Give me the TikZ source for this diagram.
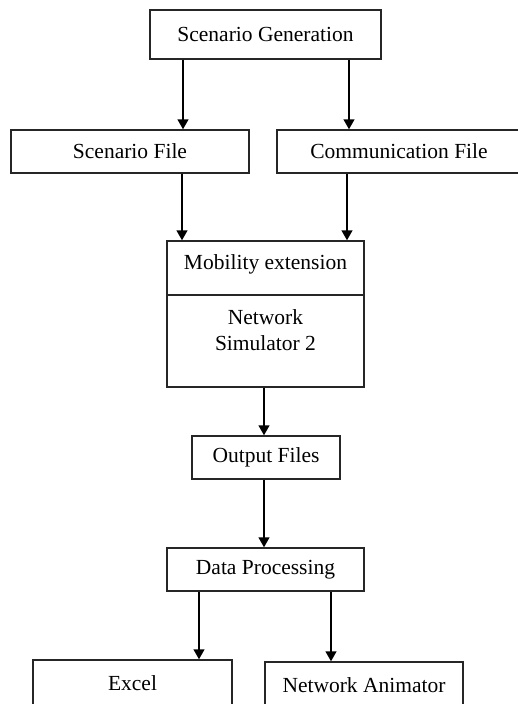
\documentclass[tikz,border=0pt]{standalone}
\usepackage{fontspec}
\setmainfont{Liberation Serif}
\usetikzlibrary{arrows.meta}
\begin{document}
\begin{tikzpicture}[x=1pt,y=-1pt,
  txt/.style={font=\fontsize{21.5}{26}\selectfont},
  box/.style={draw=black!85, line width=1.2pt, inner sep=0pt, txt, align=center},
  arr/.style={line width=2.4pt, -{Triangle[width=10.5pt,length=10pt]}}]
\useasboundingbox (0,0) rectangle (518,704);
\fill[white] (0,0) rectangle (518,704);
\node[box, minimum width=231pt, minimum height=49pt] (sg) at (265.5,34.5) {Scenario Generation};
\node[box, minimum width=238pt, minimum height=43pt] (sf) at (130,151.5) {Scenario File};
\node[box, minimum width=244pt, minimum height=43pt] (cf) at (399,151.5) {Communication File};
\node[box, minimum width=197pt, minimum height=146pt] (ns) at (265.5,314) {};
\node[txt, anchor=base] (me) at (265.5,269) {Mobility extension};
\node[txt, anchor=base] (nw) at (265.5,324) {Network};
\node[txt, anchor=base] (s2) at (265.5,350) {Simulator 2};
\draw[line width=1.2pt, black!85] (ns.west |- 0,295) -- (ns.east |- 0,295);
\node[box, minimum width=148pt, minimum height=43pt] (of) at (266,457.5) {Output Files};
\node[box, minimum width=197pt, minimum height=43pt] (dp) at (265.5,569.5) {Data Processing};
\node[box, minimum width=199pt, minimum height=46pt] (ex) at (132.5,683) {Excel};
\node[box, minimum width=198pt, minimum height=46pt] (na) at (364,685) {Network Animator};
\draw[arr] (sg.south -| 183,0) -- (sf.north -| 183,0);
\draw[arr] (sg.south -| 349,0) -- (cf.north -| 349,0);
\draw[arr] (sf.south -| 182,0) -- (ns.north -| 182,0);
\draw[arr] (cf.south -| 347,0) -- (ns.north -| 347,0);
\draw[arr] (ns.south -| 264,0) -- (of.north -| 264,0);
\draw[arr] (of.south -| 264,0) -- (dp.north -| 264,0);
\draw[arr] (dp.south -| 199,0) -- (ex.north -| 199,0);
\draw[arr] (dp.south -| 331,0) -- (na.north -| 331,0);
\end{tikzpicture}
\end{document}
